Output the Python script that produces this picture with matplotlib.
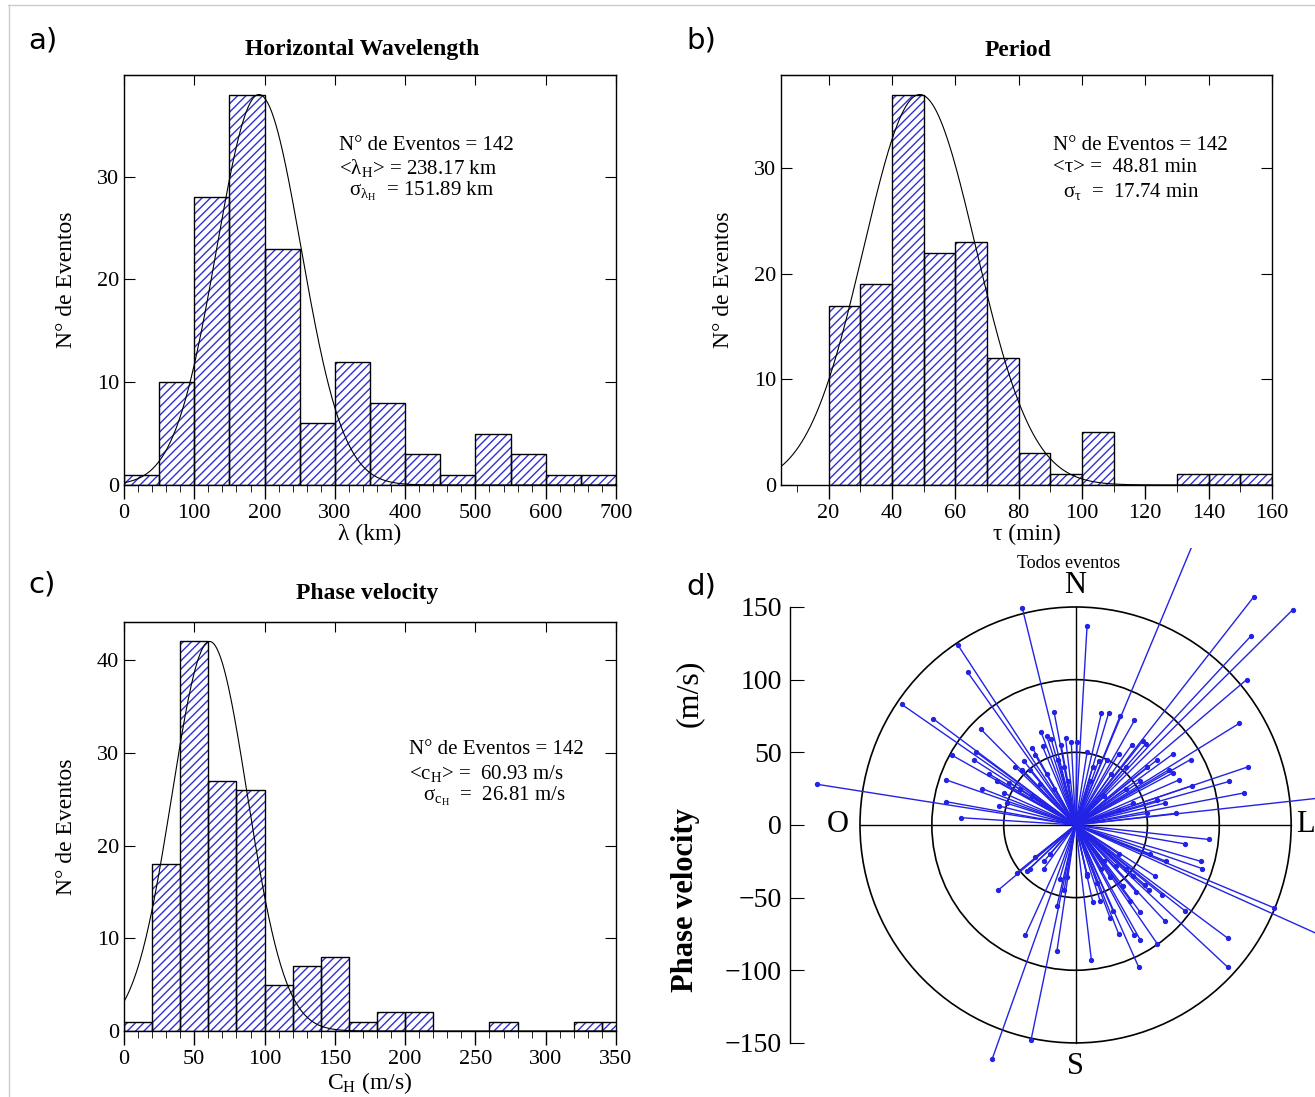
import matplotlib
matplotlib.use('Agg')
import matplotlib.pyplot as plt
import numpy as np
from matplotlib.lines import Line2D
from matplotlib.patches import Circle
from matplotlib.ticker import MultipleLocator

plt.rcParams['font.family'] = 'Liberation Serif'
plt.rcParams['mathtext.fontset'] = 'custom'
plt.rcParams['mathtext.rm'] = 'Liberation Serif'
plt.rcParams['mathtext.default'] = 'regular'
plt.rcParams['hatch.linewidth'] = 1.0

# a) horizontal wavelength histogram (km)
lam_edges = [0, 50, 100, 150, 200, 250, 300, 350, 400, 450, 500, 550, 600, 650, 700]
lam_counts = [1, 10, 28, 38, 23, 6, 12, 8, 3, 1, 5, 3, 1, 1]
lam_fit_mu, lam_fit_sigma, lam_fit_peak = 192.0, 60.0, 38.0

# b) period histogram (min)
per_edges = [20, 30, 40, 50, 60, 70, 80, 90, 100, 110, 120, 130, 140, 150, 160]
per_counts = [17, 19, 37, 22, 23, 12, 3, 1, 5, 0, 0, 1, 1, 1]
per_fit_mu, per_fit_sigma, per_fit_peak = 48.81, 17.74, 37.0

# c) phase velocity histogram (m/s)
vel_edges = [0, 20, 40, 60, 80, 100, 120, 140, 160, 180, 200, 220, 240, 260,
             280, 300, 320, 340, 360]
vel_counts = [1, 18, 42, 27, 26, 5, 7, 8, 1, 2, 2, 0, 0, 1, 0, 0, 1, 1]
vel_fit_mu, vel_fit_sigma, vel_fit_peak = 60.93, 26.81, 42.0

# d) propagation vectors, east / north components (m/s)
vec_east = [
    # NW
    -37, -82, -75, -121, -180, -99, -66, -86, -71, -69, -90, -65, -90, -80,
    -53, -48, -50, -46, -15, -24, -20, -17, -7, -3, -42, -37, -32, -30, -23,
    -36, -39, -30, -12, -8, -20, -25, -15, -5, -10, -28, -60, -55,
    # NE
    8, 84, 124, 151, 122, 119, 114, 120, 107, 117, 220, 18, 23, 31, 41, 47,
    49, 57, 68, 80, 65, 72, 81, 62, 30, 1, 16, 39, 57, 68, 45, 35, 25, 10,
    20, 40, 50, 30, 8, 35, 70, 22, 12, 50,
    # SW
    -54, -35, -13, -13, -11, -22, -34, -32, -22, -31, -58, -41, -18, -28,
    -8, -6,
    # SE
    93, 76, 87, 88, 63, 52, 220, 138, 106, 106, 76, 62, 57, 44, 45, 41, 30,
    24, 26, 17, 12, 11, 8, 45, 51, 42, 33, 48, 24, 8, 35, 20, 30, 15, 38,
    55, 60, 28, 40, 18,
]
vec_north = [
    # NW
    149, 124, 105, 83, 28, 73, 66, 48, 45, 50, 31, 25, 16, 5,
    13, 15, 22, 29, 78, 64, 61, 59, 60, 57, 40, 38, 38, 53, 54,
    44, 25, 20, 45, 40, 35, 28, 25, 30, 55, 48, 35, 30,
    # NE
    137, 199, 157, 148, 130, 100, 70, 40, 30, 22, 24, 77, 77, 75, 72, 58,
    56, 45, 49, 45, 38, 31, 27, 15, 49, 57, 44, 55, 17, 36, 30, 25, 35, 30,
    20, 15, 8, 10, 50, 40, 8, 45, 40, 40,
    # SW
    -45, -76, -87, -56, -37, -30, -32, -30, -25, -148, -161, -33, -20, -22,
    -45, -36,
    # SE
    -10, -13, -25, -30, -25, -20, -98, -57, -78, -98, -59, -66, -82, -98,
    -79, -76, -75, -64, -59, -52, -53, -93, -35, -60, -45, -46, -42, -41,
    -36, -34, -30, -25, -20, -40, -52, -35, -48, -28, -35, -30,
]

W, H = 1315, 1097
HATCH_BLUE = '#3030d8'
VEC_BLUE = '#2323e6'

fig = plt.figure(figsize=(W / 100, H / 100), dpi=100)


def fx(px):
    return px / W


def fy(py):
    return 1 - py / H


def hist_panel(rect, edges, counts, mu, sigma, peak, xlim, major, minor,
               ymajor, title, title_xy, xlabel, stats, stats_xy):
    ax = fig.add_axes(rect)
    left = np.array(edges[:-1])
    widths = np.diff(edges)
    ax.bar(left, counts, widths, align='edge', color='white',
           edgecolor=HATCH_BLUE, hatch='////', linewidth=0)
    ax.bar(left, counts, widths, align='edge', fill=False,
           edgecolor='black', linewidth=1.0)
    xs = np.linspace(xlim[0], xlim[1], 500)
    ax.plot(xs, peak * np.exp(-0.5 * ((xs - mu) / sigma) ** 2),
            color='black', lw=0.8)
    ax.set_xlim(xlim)
    ax.set_ylim(0, max(counts) * 1.05)

    ax.xaxis.set_major_locator(MultipleLocator(major))
    ax.xaxis.set_minor_locator(MultipleLocator(minor))
    ax.yaxis.set_major_locator(MultipleLocator(ymajor))
    ax.tick_params(axis='x', which='major', direction='out', length=10,
                   width=1, labelsize=16, pad=4)
    ax.tick_params(axis='x', which='minor', direction='out', length=5)
    ax.tick_params(axis='y', direction='in', length=8, right=True,
                   labelsize=16)
    top = ax.secondary_xaxis('top')
    top.xaxis.set_major_locator(MultipleLocator(major))
    top.tick_params(direction='in', length=7, labeltop=False)
    for sp in ax.spines.values():
        sp.set_linewidth(1.0)

    ax.set_ylabel('N° de Eventos', fontsize=17)
    ax.yaxis.set_label_coords(-0.095, 0.5)
    ax.set_xlabel(xlabel, fontsize=17)
    ax.xaxis.set_label_coords(0.5, -0.095)

    fig.text(fx(title_xy[0]), fy(title_xy[1]), title, ha='center',
             va='center', fontsize=17, fontweight='bold')
    for (px, py), s in zip(stats_xy, stats):
        fig.text(fx(px), fy(py), s, ha='left', va='center', fontsize=15)
    return ax


hist_panel([fx(124), fy(485), 492 / W, 410 / H], lam_edges, lam_counts,
           lam_fit_mu, lam_fit_sigma, lam_fit_peak, (0, 700), 100, 20, 10,
           'Horizontal Wavelength', (362, 50), 'λ (km)',
           ['N° de Eventos = 142', '<$λ_{H}$> = 238.17 km',
            '$σ_{λ_{H}}$  = 151.89 km'],
           [(339, 146), (339, 168), (349, 191)])

hist_panel([fx(781), fy(485), 491 / W, 410 / H], per_edges, per_counts,
           per_fit_mu, per_fit_sigma, per_fit_peak, (5, 160), 20, 10, 10,
           'Period', (1018, 50), 'τ (min)',
           ['N° de Eventos = 142', '<τ> =  48.81 min',
            '$σ_{τ}$  =  17.74 min'],
           [(1053, 146), (1053, 168), (1063, 191)])

hist_panel([fx(124), fy(1031), 492 / W, 409 / H], vel_edges, vel_counts,
           vel_fit_mu, vel_fit_sigma, vel_fit_peak, (0, 350), 50, 10, 10,
           'Phase velocity', (367, 594), '$C_{H}$ (m/s)',
           ['N° de Eventos = 142', '<$c_{H}$> =  60.93 m/s',
            '$σ_{c_{H}}$  =  26.81 m/s'],
           [(409, 750), (409, 773), (423, 796)])

# d) polar vector diagram
axd = fig.add_axes([fx(790), fy(1090), 1 - fx(790), (1090 - 548) / H])
axd.set_xlim(-198.7, 166.6)
axd.set_ylim(-182.4, 190.6)
for r in (50, 100, 150):
    axd.add_patch(Circle((0, 0), r, fill=False, ec='black', lw=1.2))
axd.plot([-150, 150], [0, 0], color='black', lw=1.0)
axd.plot([0, 0], [-150, 150], color='black', lw=1.0)
for e, n in zip(vec_east, vec_north):
    axd.plot([0, e], [0, n], color=VEC_BLUE, lw=1.0)
axd.plot(vec_east, vec_north, 'o', ms=2.8, color=VEC_BLUE)

for side in ('top', 'right', 'bottom'):
    axd.spines[side].set_visible(False)
axd.spines['left'].set_bounds(-150, 150)
axd.spines['left'].set_linewidth(1.0)
axd.set_xticks([])
axd.set_yticks([-150, -100, -50, 0, 50, 100, 150])
axd.tick_params(axis='y', direction='in', length=10, labelsize=20, pad=6)
axd.patch.set_alpha(0)

axd.text(-5, 180, 'Todos eventos', ha='center', va='center', fontsize=13)
axd.text(0, 165, 'N', ha='center', va='center', fontsize=22)
axd.text(0, -166.5, 'S', ha='center', va='center', fontsize=22)
axd.text(-165.4, 0, 'O', ha='center', va='center', fontsize=22)
axd.text(160, 0, 'L', ha='center', va='center', fontsize=22)

fig.text(fx(686), fy(900), 'Phase velocity', rotation=90, ha='center',
         va='center', fontsize=22, fontweight='bold')
fig.text(fx(689), fy(693), '(m/s)', rotation=90, ha='center', va='center',
         fontsize=23)

# panel letters
for lab, px, py in (('a)', 28, 40), ('b)', 686, 40), ('c)', 28, 585),
                    ('d)', 686, 586)):
    fig.text(fx(px), fy(py), lab, ha='left', va='center', fontsize=21,
             family='DejaVu Sans')

# faint border of the page
fig.add_artist(Line2D([fx(8), 1], [fy(5), fy(5)], transform=fig.transFigure,
                      color='#cccccc', lw=1))
fig.add_artist(Line2D([fx(9), fx(9)], [fy(5), 0], transform=fig.transFigure,
                      color='#cccccc', lw=1))

fig.savefig('out.png', dpi=100)
